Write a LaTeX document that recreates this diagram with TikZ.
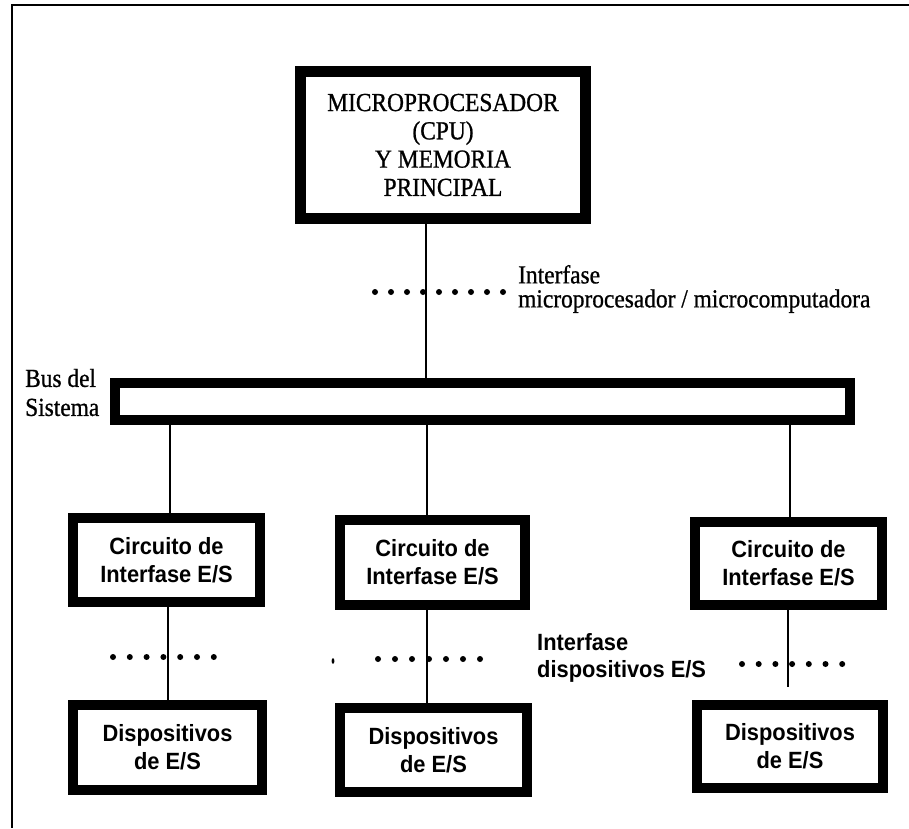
\documentclass[tikz,border=0pt]{standalone}
\usepackage{fontspec}
\newfontfamily\serf[FakeStretch=0.9,FakeBold=0.8]{Liberation Serif}
\newfontfamily\sansf[FakeStretch=0.93]{Liberation Sans}
\begin{document}
\begin{tikzpicture}[x=1pt,y=-1pt,
  thickbox/.style={draw, line width=10pt, fill=white, inner sep=0pt, align=center,
    font=\sansf\bfseries\fontsize{23.5}{28}\selectfont},
  conn/.style={line width=2.5pt},
  frameline/.style={line width=2.5pt},
  lblserif/.style={inner sep=0pt, align=left, anchor=west},
  lblsans/.style={inner sep=0pt, align=left, anchor=west,
    font=\sansf\bfseries\fontsize{23.5}{27}\selectfont}]
\useasboundingbox (0,0) rectangle (909,828);
% frame (top and left)
\coordinate (ftl) at (12,5);
\coordinate (ftr) at (909,5);
\coordinate (fbl) at (12,828);
\draw[frameline] (ftr) -- (ftl) -- (fbl);
% boxes
\node[thickbox, line width=11pt, minimum width=285pt, minimum height=147pt,
  font=\serf\fontsize{26}{28.3}\selectfont] (cpu) at (443,145)
  {MICROPROCESADOR\\(CPU)\\Y MEMORIA\\PRINCIPAL};
\node[thickbox, minimum width=735pt, minimum height=37pt] (bus) at (482.5,401.5) {};
\node[thickbox, minimum width=187pt, minimum height=84pt] (c1) at (166.5,560) {Circuito de\\Interfase E/S};
\node[thickbox, minimum width=185pt, minimum height=85pt] (c2) at (432.5,562.5) {Circuito de\\Interfase E/S};
\node[thickbox, minimum width=187pt, minimum height=83pt] (c3) at (788.5,563.5) {Circuito de\\Interfase E/S};
\node[thickbox, minimum width=189pt, minimum height=85pt] (d1) at (167.5,747.5) {Dispositivos\\de E/S};
\node[thickbox, minimum width=187pt, minimum height=84pt] (d2) at (433.5,750) {Dispositivos\\de E/S};
\node[thickbox, minimum width=186pt, minimum height=83pt] (d3) at (790,746.5) {Dispositivos\\de E/S};
% connector x positions
\coordinate (xa) at (426,0);
\coordinate (xb1) at (170,0);
\coordinate (xb2) at (427,0);
\coordinate (xb3) at (790,0);
\coordinate (xd1) at (168,0);
\coordinate (xd2) at (427,0);
\coordinate (xd3) at (788,0);
% connectors
\draw[conn] (cpu.south -| xa) -- (bus.north -| xa);
\draw[conn] (bus.south -| xb1) -- (c1.north -| xb1);
\draw[conn] (bus.south -| xb2) -- (c2.north -| xb2);
\draw[conn] (bus.south -| xb3) -- (c3.north -| xb3);
\draw[conn] (c1.south -| xd1) -- (d1.north -| xd1);
\draw[conn] (c2.south -| xd2) -- (d2.north -| xd2);
\draw[conn, shorten >=13pt] (c3.south -| xd3) -- (d3.north -| xd3);
% dotted interface markers
\foreach \i in {0,...,8} \fill ({375+16*\i},292) circle (3pt);
\foreach \i in {0,...,6} \fill ({113+16.8*\i},657) circle (3pt);
\foreach \i in {0,...,6} \fill ({378+17*\i},659) circle (3pt);
\foreach \i in {0,...,6} \fill ({742+16.7*\i},664) circle (3pt);
\fill (333,661) ellipse (1.4pt and 2.8pt);
% labels
\node[lblserif, font=\serf\fontsize{26}{24}\selectfont] (ifmp) at (518,289)
  {Interfase\\microprocesador / microcomputadora};
\node[lblserif, font=\serf\fontsize{26}{29}\selectfont] (buslbl) at (25,392.5)
  {Bus del\\Sistema};
\node[lblsans] (ifes) at (537,658) {Interfase\\dispositivos E/S};
\end{tikzpicture}
\end{document}
